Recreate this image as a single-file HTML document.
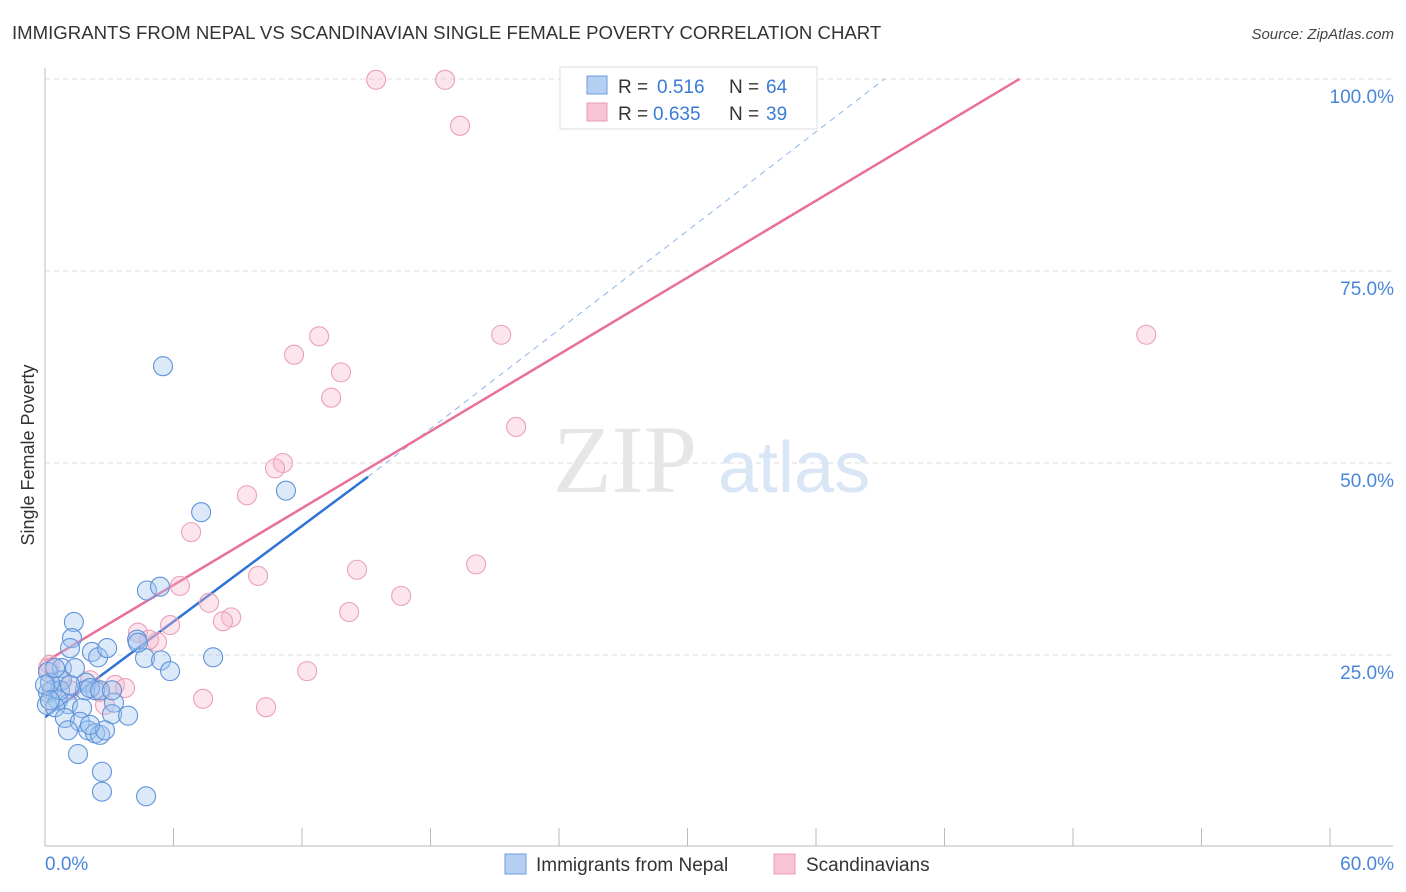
<!DOCTYPE html>
<html><head><meta charset="utf-8"><style>
body{margin:0;background:#fff;font-family:"Liberation Sans",sans-serif}
svg{display:block}
</style></head><body>
<svg id="chart" width="1406" height="892" xmlns="http://www.w3.org/2000/svg">
<text x="12" y="39" font-size="18.6" fill="#333">IMMIGRANTS FROM NEPAL VS SCANDINAVIAN SINGLE FEMALE POVERTY CORRELATION CHART</text>
<text x="1394" y="39" font-size="15" fill="#444" text-anchor="end" font-style="italic">Source: ZipAtlas.com</text>
<text x="34" y="455" font-size="18" fill="#333" text-anchor="middle" transform="rotate(-90 34 455)">Single Female Poverty</text>
<g id="grid"></g>
<g id="watermark"><text x="553" y="492" font-size="96" fill="#e6e6e6" font-family="Liberation Serif,serif">ZIP</text><text x="718" y="492" font-size="72" fill="#d8e6f6">atlas</text></g>
<g id="lines"></g>
<g id="pts"></g>
<g id="axes"></g>
<g>
<rect x="560" y="67" width="257" height="62" fill="#fff" stroke="#ddd"/>
<rect x="587" y="76" width="20" height="18" fill="#b5cff3" stroke="#6a9be0"/>
<rect x="587" y="103" width="20" height="18" fill="#f8c4d4" stroke="#ea9bb5"/>
<text x="618" y="93" font-size="19" fill="#333">R =</text><text x="657" y="93" font-size="19" fill="#3a7bd5">0.516</text>
<text x="729" y="93" font-size="19" fill="#333">N =</text><text x="766" y="93" font-size="19" fill="#3a7bd5">64</text>
<text x="618" y="120" font-size="19" fill="#333">R =</text><text x="653" y="120" font-size="19" fill="#3a7bd5">0.635</text>
<text x="729" y="120" font-size="19" fill="#333">N =</text><text x="766" y="120" font-size="19" fill="#3a7bd5">39</text>
</g>
<g>
<rect x="505" y="854" width="21" height="20" fill="#b5cff3" stroke="#6a9be0"/>
<text x="536" y="871" font-size="19" fill="#333">Immigrants from Nepal</text>
<rect x="774" y="854" width="21" height="20" fill="#f8c4d4" stroke="#ea9bb5"/>
<text x="806" y="871" font-size="19" fill="#333">Scandinavians</text>
</g>
</svg>
<script>
const blueX=[5.51,11.25,7.29,4.76,5.37,1.35,1.26,1.17,2.19,2.48,2.90,4.30,4.67,5.42,5.84,7.85,0.79,1.40,0.14,0.79,0.33,1.91,2.34,0.14,0.61,1.07,0.09,0.47,1.73,3.22,3.13,3.88,0.93,1.63,1.07,2.01,2.34,2.57,2.80,1.54,2.66,2.66,4.72,0.70,1.87,2.10,0.23,0.47,2.57,0,1.17,2.10,3.13,4.34,0.23];
const blueY=[62.6,46.4,43.6,33.4,33.9,29.3,27.2,25.9,25.4,24.7,25.9,27.0,24.6,24.3,22.9,24.7,23.3,23.3,22.8,21.7,20.4,21.4,20.4,20.1,19.1,18.6,18.5,18.2,18.1,18.8,17.3,17.1,16.8,16.3,15.2,15.2,14.8,14.6,15.2,12.1,9.8,7.2,6.6,20.4,20.4,20.7,21.4,23.3,20.4,21.1,21.1,15.9,20.4,26.6,19.1];
const pinkX=[15.46,18.68,19.38,12.80,21.30,51.42,11.63,13.82,13.36,22.0,11.11,10.74,9.43,6.82,9.95,6.30,14.57,20.13,7.66,16.63,14.20,8.69,8.31,5.84,4.34,5.23,4.86,12.24,0.23,0.70,3.27,3.74,2.57,7.38,10.32,2.80,2.10,1.17,0.14];
const pinkY=[99.9,99.9,93.9,66.5,66.7,66.7,64.1,61.8,58.5,54.7,50.0,49.3,45.8,41.0,35.3,34.0,36.1,36.8,31.8,32.7,30.6,29.9,29.4,28.9,27.9,26.7,27.0,22.9,23.7,21.7,21.1,20.7,20.2,19.3,18.2,18.5,21.7,20.4,23.3];
const blueLine=[[0,16.9],[15.08,48.2]];
const blueDash=[[15.08,48.2],[39.2,100]];
const pinkLine=[[0,24.1],[45.5,100]];
const yTicks=[25,50,75,100];
const xTickVals=[0,6,12,18,24,30,36,42,48,54,60];
const NS='http://www.w3.org/2000/svg';
const sx=v=>45+v/60*1285, sy=v=>847-v*7.68;
function mk(p,t,a){const e=document.createElementNS(NS,t);for(const k in a)e.setAttribute(k,a[k]);p.appendChild(e);return e;}
const grid=document.getElementById('grid'),axes=document.getElementById('axes'),pts=document.getElementById('pts'),lines=document.getElementById('lines');
yTicks.forEach(v=>{const l=mk(grid,'line',{x1:45,x2:1393,y1:sy(v),y2:sy(v),stroke:'#ddd','stroke-dasharray':'5,4'});

const t=mk(axes,'text',{x:1394,y:sy(v)+24,'font-size':19,fill:'#4a86d8','text-anchor':'end'});t.textContent=v.toFixed(1)+'%';
});
mk(axes,'line',{x1:45,x2:45,y1:68,y2:846,stroke:'#bbb'});
mk(axes,'line',{x1:45,x2:1393,y1:846,y2:846,stroke:'#bbb'});
xTickVals.forEach(v=>{const l=mk(axes,'line',{x1:sx(v),x2:sx(v),y1:828,y2:846,stroke:'#bbb'});
});
let t=mk(axes,'text',{x:45,y:870,'font-size':19,fill:'#4a86d8'});t.textContent='0.0%';

t=mk(axes,'text',{x:1394,y:870,'font-size':19,fill:'#4a86d8','text-anchor':'end'});t.textContent='60.0%';

pinkX.forEach((x,i)=>{const c=mk(pts,'circle',{cx:sx(x),cy:sy(pinkY[i]),r:9.5,fill:'rgba(246,180,202,0.35)',stroke:'#eba0b8','stroke-width':1.1});
});
blueX.forEach((x,i)=>{const c=mk(pts,'circle',{cx:sx(x),cy:sy(blueY[i]),r:9.5,fill:'rgba(160,196,240,0.38)',stroke:'#5f93da','stroke-width':1.1});
});
function ln(d,col,w,dash,name){const l=mk(lines,'line',{x1:sx(d[0][0]),y1:sy(d[0][1]),x2:sx(d[1][0]),y2:sy(d[1][1]),stroke:col,'stroke-width':w});if(dash)l.setAttribute('stroke-dasharray',dash);
}
ln(blueDash,'#8fb4e6',1,'6,5','nepal-trend-extension');
ln(pinkLine,'#e8709a',2.5,null,'scandinavian-trend-line');
ln(blueLine,'#2f73d6',2.5,null,'nepal-trend-line');
</script>
</body></html>
